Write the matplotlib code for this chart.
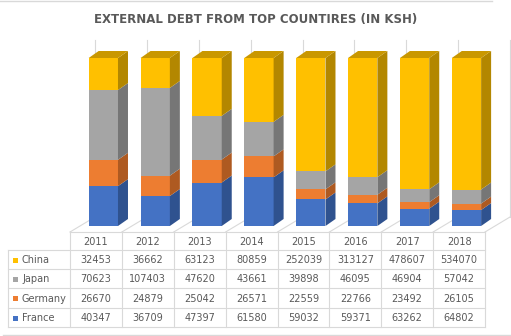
import matplotlib
matplotlib.use("Agg")
import matplotlib.pyplot as plt
from matplotlib.patches import Rectangle, Polygon
import numpy as np

# ---------------------------------------------------------------
# Dati
# ---------------------------------------------------------------
years = ["2011", "2012", "2013", "2014", "2015", "2016", "2017", "2018"]
china = [32453, 36662, 63123, 80859, 252039, 313127, 478607, 534070]
japan = [70623, 107403, 47620, 43661, 39898, 46095, 46904, 57042]
germany = [26670, 24879, 25042, 26571, 22559, 22766, 23492, 26105]
france = [40347, 36709, 47397, 61580, 59032, 59371, 63262, 64802]

# ordine di impilamento (dal basso) e righe tabella (dall'alto)
stack = [("France", france), ("Germany", germany), ("Japan", japan), ("China", china)]
table_rows = [("China", china), ("Japan", japan), ("Germany", germany), ("France", france)]

front = {"China": "#FFC000", "Japan": "#A5A5A5", "Germany": "#ED7D31", "France": "#4472C4"}
side = {"China": "#B38700", "Japan": "#767676", "Germany": "#AE5A21", "France": "#2F528F"}
top = {"China": "#C99700", "Japan": "#8C8C8C", "Germany": "#C4692A", "France": "#3A62AA"}

W, H = 511, 336
fig = plt.figure(figsize=(W / 100, H / 100), dpi=100)
fig.patch.set_facecolor("white")

# ---------------------------------------------------------------
# Asse delle barre: x in categorie, y in percentuale
# ---------------------------------------------------------------
px_l, px_r = 70, 485
px_bot, px_top = 226, 58
ax = fig.add_axes([px_l / W, (H - px_bot) / H, (px_r - px_l) / W, (px_bot - px_top) / H])
ax.set_xlim(0, len(years))
ax.set_ylim(0, 100)
ax.axis("off")

u_x = (px_r - px_l) / len(years)      # pixel per categoria
u_y = (px_bot - px_top) / 100.0       # pixel per punto percentuale

# pareti (pavimento + linee verticali di fondo)
floor_front = -(232 - px_bot) / u_y
floor_back = -(217 - px_bot) / u_y
floor_dx = 25 / u_x
wall_top = (px_bot - 40) / u_y
grid_col = "#D9D9D9"
for i in range(len(years) + 1):
    ax.plot([i, i + floor_dx], [floor_front, floor_back], color=grid_col, lw=0.8,
            clip_on=False, zorder=1)
    ax.plot([i + floor_dx, i + floor_dx], [floor_back, wall_top], color=grid_col, lw=0.8,
            clip_on=False, zorder=1)

# barre 3D impilate al 100%
totals = np.sum([np.array(v, dtype=float) for _, v in stack], axis=0)
bar_off, bar_w = 0.36, 0.565
dx, dy = 10 / u_x, 7 / u_y
for i in range(len(years)):
    x0 = i + bar_off
    base = 0.0
    for name, vals in stack:
        h = vals[i] / totals[i] * 100
        ax.add_patch(Rectangle((x0, base), bar_w, h, facecolor=front[name],
                               edgecolor="none", clip_on=False, zorder=3))
        ax.add_patch(Polygon([(x0 + bar_w, base), (x0 + bar_w + dx, base + dy),
                              (x0 + bar_w + dx, base + h + dy), (x0 + bar_w, base + h)],
                             closed=True, facecolor=side[name], edgecolor="none",
                             clip_on=False, zorder=3))
        base += h
    ax.add_patch(Polygon([(x0, base), (x0 + dx, base + dy), (x0 + bar_w + dx, base + dy),
                          (x0 + bar_w, base)], closed=True, facecolor=top["China"],
                         edgecolor="none", clip_on=False, zorder=3))

# ---------------------------------------------------------------
# Tabella dati (coordinate in pixel)
# ---------------------------------------------------------------
at = fig.add_axes([0, 0, 1, 1])
at.set_xlim(0, W)
at.set_ylim(H, 0)
at.axis("off")
at.patch.set_alpha(0)

txt_col = "#595959"
line_col = "#D9D9D9"
col_edges = [px_l + u_x * k for k in range(len(years) + 1)]
row_edges = [232, 250, 269, 288, 308, 327]
lab_l = 8

# linee orizzontali
at.plot([px_l, px_r], [row_edges[0]] * 2, color=line_col, lw=0.8)
for y in row_edges[1:]:
    at.plot([lab_l, px_r], [y, y], color=line_col, lw=0.8)
# linee verticali
for x in col_edges:
    at.plot([x, x], [row_edges[0], row_edges[-1]], color=line_col, lw=0.8)
at.plot([lab_l, lab_l], [row_edges[1], row_edges[-1]], color=line_col, lw=0.8)

fs = 7
for j, yr in enumerate(years):
    xc = (col_edges[j] + col_edges[j + 1]) / 2
    at.text(xc, (row_edges[0] + row_edges[1]) / 2 + 1, yr, ha="center", va="center",
            fontsize=fs, color=txt_col)
for r, (name, vals) in enumerate(table_rows):
    yc = (row_edges[r + 1] + row_edges[r + 2]) / 2 + 0.5
    at.add_patch(Rectangle((13, yc - 2.5), 5, 5, facecolor=front[name], edgecolor="none"))
    at.text(22, yc, name, ha="left", va="center", fontsize=fs, color=txt_col)
    for j, v in enumerate(vals):
        xc = (col_edges[j] + col_edges[j + 1]) / 2
        at.text(xc, yc, str(v), ha="center", va="center", fontsize=fs, color=txt_col)

# titolo
at.text(W / 2, 19, "EXTERNAL DEBT FROM TOP COUNTIRES (IN KSH)", ha="center", va="center",
        fontsize=8.5, fontweight="bold", color=txt_col)

# cornice del grafico (solo sopra e sotto)
at.plot([0, 492], [1, 1], color=line_col, lw=1)
at.plot([3, W], [335, 335], color=line_col, lw=1)

fig.savefig("out.png", dpi=100)
